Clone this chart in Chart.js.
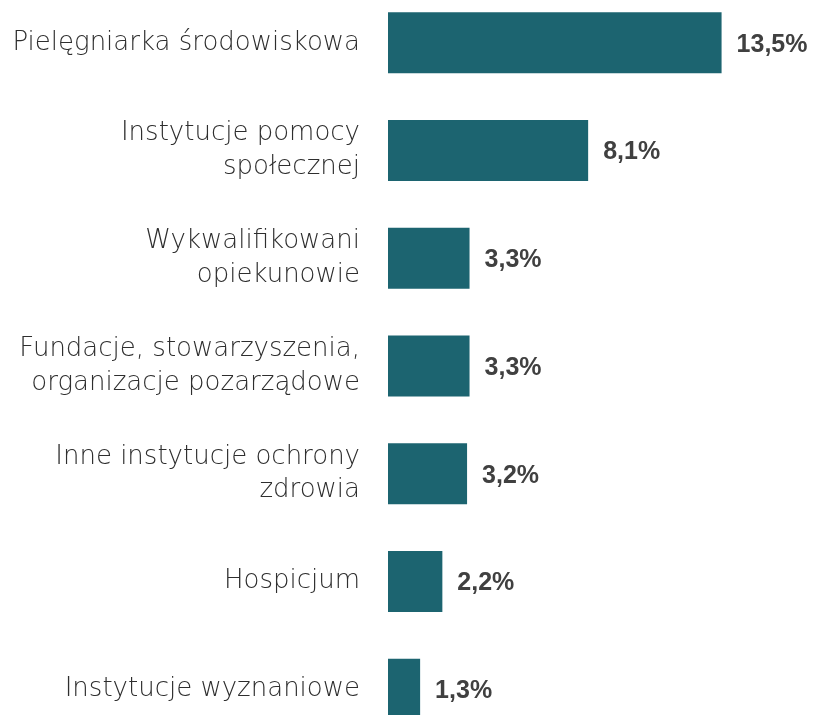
<!DOCTYPE html>
<html>
<head>
<meta charset="utf-8">
<script src="https://cdn.jsdelivr.net/npm/chart.js@4/dist/chart.umd.min.js"></script>
<style>
  html, body { margin: 0; padding: 0; background: #fff; overflow: hidden; }
  #wrap { position: relative; width: 813px; height: 754px; top: -11px; }
</style>
</head>
<body>
<div id="wrap"><canvas id="myChart"></canvas></div>
<script>
const categories = [
  ['Pielęgniarka środowiskowa'],
  ['Instytucje pomocy', 'społecznej'],
  ['Wykwalifikowani', 'opiekunowie'],
  ['Fundacje, stowarzyszenia,', 'organizacje pozarządowe'],
  ['Inne instytucje ochrony', 'zdrowia'],
  ['Hospicjum'],
  ['Instytucje wyznaniowe'],
];
const values = [13.5, 8.1, 3.3, 3.3, 3.2, 2.2, 1.3];
const valueLabels = ['13,5%', '8,1%', '3,3%', '3,3%', '3,2%', '2,2%', '1,3%'];

// draws the bold percentages right after each bar
const valueLabelPlugin = {
  id: 'valueLabels',
  afterDatasetsDraw(chart) {
    const ctx = chart.ctx;
    const meta = chart.getDatasetMeta(0);
    ctx.save();
    ctx.font = 'bold 25px "Liberation Sans"';
    ctx.fillStyle = '#404040';
    ctx.textAlign = 'left';
    ctx.textBaseline = 'middle';
    meta.data.forEach((bar, i) => {
      ctx.fillText(valueLabels[i], bar.x + 15, bar.y + 2);
    });
    ctx.restore();
  },
};

const config = {
  type: 'bar',
  data: {
    labels: categories,
    datasets: [
      {
        data: values,
        backgroundColor: '#1c6470',
        barPercentage: 0.566,
        categoryPercentage: 1,
      },
    ],
  },
  options: {
    indexAxis: 'y',
    responsive: true,
    maintainAspectRatio: false,
    animation: false,
    layout: { padding: 0 },
    plugins: {
      legend: { display: false },
      tooltip: { enabled: false },
    },
    scales: {
      x: {
        display: false,
        min: 0,
        max: 17.2,
      },
      y: {
        grid: { display: false, drawTicks: false },
        border: { display: false },
        ticks: {
          color: '#2e2e2e',
          padding: 28,
          font: { size: 26, family: 'DejaVu Sans', weight: 200, lineHeight: 1.3 },
        },
        afterFit(scale) {
          scale.width = 388;
          scale.paddingTop = 0;
          scale.paddingBottom = 0;
        },
      },
    },
  },
  plugins: [valueLabelPlugin],
};

const ctx = document.getElementById('myChart').getContext('2d');
new Chart(ctx, config);
</script>
</body>
</html>
